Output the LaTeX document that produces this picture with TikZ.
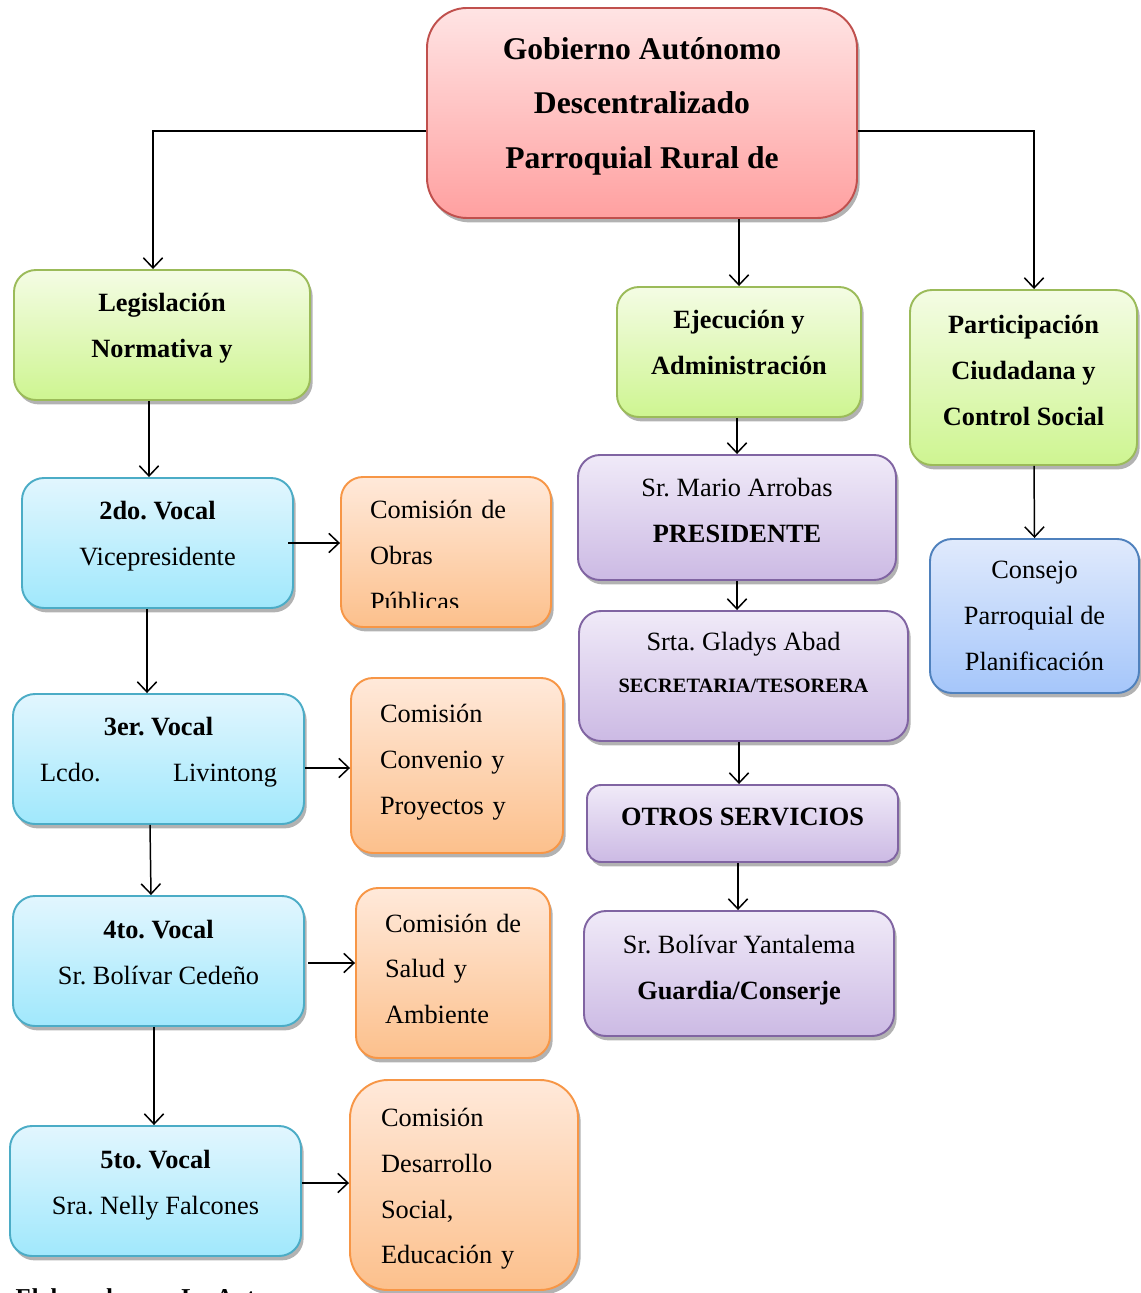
\documentclass[tikz,border=0pt]{standalone}
\usepackage{fontspec}
\setmainfont{Liberation Serif}
\usetikzlibrary{arrows.meta,shadows}
\frenchspacing

\definecolor{redT}{RGB}{255,228,228}
\definecolor{redB}{RGB}{255,160,160}
\definecolor{redL}{RGB}{192,80,77}
\definecolor{grnT}{RGB}{244,252,228}
\definecolor{grnB}{RGB}{206,245,145}
\definecolor{grnL}{RGB}{155,187,89}
\definecolor{bluT}{RGB}{226,246,254}
\definecolor{bluB}{RGB}{160,232,252}
\definecolor{bluL}{RGB}{75,172,198}
\definecolor{orgT}{RGB}{255,233,218}
\definecolor{orgB}{RGB}{252,192,140}
\definecolor{orgL}{RGB}{247,150,70}
\definecolor{purT}{RGB}{240,234,248}
\definecolor{purB}{RGB}{204,186,228}
\definecolor{purL}{RGB}{128,100,162}
\definecolor{sltT}{RGB}{224,234,252}
\definecolor{sltB}{RGB}{165,198,250}
\definecolor{sltL}{RGB}{79,129,189}

\begin{document}
\begin{tikzpicture}[x=0.02cm, y=-0.02cm, >={Straight Barb[length=5.8pt,width=11pt]}, line width=0.85pt,
		font=\fontsize{15}{26}\selectfont,
		sz/.style 2 args={minimum width=#1*0.02cm, minimum height=#2*0.02cm},
		lift/.style={execute at end node={\rule[-#1]{0pt}{0pt}}}, lift/.default=11pt,
		drop/.style={execute at begin node={\rule{0pt}{#1}}},
		box/.style={rounded corners=0.44cm, line width=1.1pt, inner sep=0pt, align=center,
			drop shadow={shadow xshift=1.5pt, shadow yshift=-2.5pt, opacity=0.3, fill=black}},
		rbox/.style={box, draw=redL, top color=redT, bottom color=redB},
		gbox/.style={box, draw=grnL, top color=grnT, bottom color=grnB, font=\fontsize{15}{26}\selectfont\bfseries},
		bbox/.style={box, draw=bluL, top color=bluT, bottom color=bluB},
		obox/.style={box, draw=orgL, top color=orgT, bottom color=orgB, align=left, inner xsep=0.58cm},
		pbox/.style={box, draw=purL, top color=purT, bottom color=purB},
		sbox/.style={box, draw=sltL, top color=sltT, bottom color=sltB}]
	\useasboundingbox (0,0) rectangle (1140,1293);
	% top of the chart
	\node[rbox, sz={430}{210}, rounded corners=0.8cm, font=\fontsize{18}{31}\selectfont\bfseries, lift=11.5pt] (gob) at (642,113) {Gobierno Autónomo\\Descentralizado\\Parroquial Rural de};
	% the three branches
	\node[gbox, sz={296}{130}, lift] (leg) at (162,335) {Legislación\\Normativa y};
	\node[gbox, sz={244}{130}, lift] (eje) at (739,352) {Ejecución y\\Administración};
	\node[gbox, sz={227}{175}, lift=8pt] (par) at (1023.5,377.5) {Participación\\Ciudadana y\\Control Social};
	% vocales
	\node[bbox, sz={271}{130}, lift] (v2) at (157.5,543) {\textbf{2do. Vocal}\\Vicepresidente};
	\node[bbox, sz={291}{130}, lift] (v3) at (158.5,759) {\textbf{3er. Vocal}\\\makebox[4.74cm][s]{Lcdo.\hfill Livintong}};
	\node[bbox, sz={291}{130}, lift=10pt] (v4) at (158.5,961) {\textbf{4to. Vocal}\\Sr. Bolívar Cedeño};
	\node[bbox, sz={291}{130}, lift=10pt] (v5) at (155.5,1191) {\textbf{5to. Vocal}\\Sra. Nelly Falcones};
	% comisiones
	\node[obox, sz={210}{150}, text width=3.04cm, inner xsep=0.54cm] (c2) at (446,552) {};
	\begin{scope}
		\clip (341,477) rectangle (551,607);
		\node[sz={210}{150}, inner sep=0pt, inner xsep=0.54cm, text width=3.04cm, align=left] (c2t) at ([yshift=-2pt]c2.center) {Comisión~de\\Obras\\Públicas};
	\end{scope}
	\node[obox, sz={212}{175}, text width=3.08cm, lift=7pt] (c3) at (457,765.5) {Comisión\\Convenio~y\\Proyectos~y};
	\node[obox, sz={194}{170}, text width=2.72cm, lift=5pt] (c4) at (453,973) {Comisión~de\\Salud~y\\Ambiente};
	\node[obox, sz={228}{210}, text width=3.32cm, inner xsep=0.62cm, rounded corners=0.76cm, drop=15pt] (c5) at (464,1185) {Comisión\\Desarrollo\\Social,\\Educación~y};
	% ejecucion column
	\node[pbox, sz={318}{125}, lift=8pt] (pre) at (737,517.5) {Sr. Mario Arrobas\\\textbf{PRESIDENTE}};
	\node[pbox, sz={329}{130}, font=\fontsize{15}{24}\selectfont, lift=16pt] (sec) at (743.5,676) {Srta. Gladys Abad\\{\fontsize{11.6}{14}\selectfont\bfseries SECRETARIA/TESORERA}};
	\node[pbox, sz={311}{77}, rounded corners=0.28cm, lift=8pt] (otr) at (742.5,823.5) {\textbf{OTROS SERVICIOS}};
	\node[pbox, sz={310}{125}, lift=7pt] (gua) at (739,973.5) {Sr. Bolívar Yantalema\\\textbf{Guardia/Conserje}};
	% participacion
	\node[sbox, sz={209}{154}, drop=18pt] (con) at (1034.5,616) {Consejo\\Parroquial de\\Planificación};
	% connectors
	\draw[->] (gob.west |- 0,131) -| (153,0 |- leg.north);
	\draw[->] (gob.east |- 0,131) -| (1034,0 |- par.north);
	\draw[->] (739,0 |- gob.south) -- (eje.north);
	\draw[->] (149,0 |- leg.south) -- (149,0 |- v2.north);
	\draw[->] (147,0 |- v2.south) -- (147,0 |- v3.north);
	\draw[->] (150,0 |- v3.south) -- (151,0 |- v4.north);
	\draw[->] (154,0 |- v4.south) -- (154,0 |- v5.north);
	\draw[->] (288,0 |- v2.east) -- (c2.west |- v2.east);
	\draw[->] (v3.east |- 0,768) -- (c3.west |- 0,768);
	\draw[->] (308,963) -- (c4.west |- 0,963);
	\draw[->] (v5.east |- 0,1183) -- (c5.west |- 0,1183);
	\draw[->] (737,0 |- eje.south) -- (737,0 |- pre.north);
	\draw[->] (737,0 |- pre.south) -- (737,0 |- sec.north);
	\draw[->] (739,0 |- sec.south) -- (739,0 |- otr.north);
	\draw[->] (738,0 |- otr.south) -- (738,0 |- gua.north);
	\draw[->] (1034,0 |- par.south) -- (con.north);
	% source line, cut by the page edge
	\node[font=\fontsize{13.8}{16}\selectfont\bfseries, anchor=base west, inner sep=0pt] (src) at (15,1305) {Elaborado por: La Autora};
\end{tikzpicture}
\end{document}
